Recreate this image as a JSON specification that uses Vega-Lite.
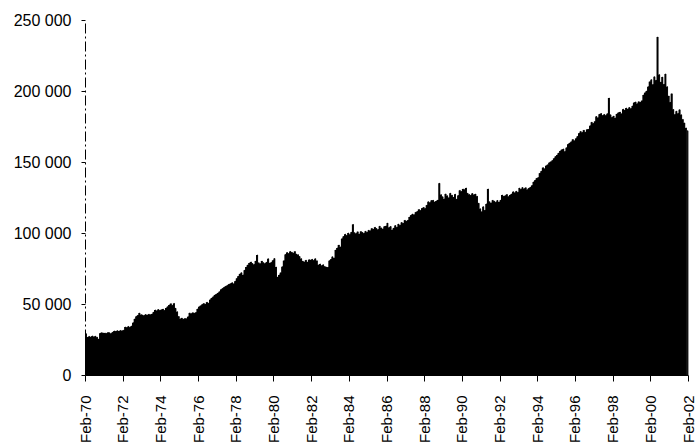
{
  "$schema": "https://vega.github.io/schema/vega-lite/v6.json",
  "width": 603,
  "height": 355,
  "autosize": "none",
  "padding": {"left": 85, "top": 20, "right": 9, "bottom": 72},
  "background": "white",
  "config": {"view": {"stroke": null}, "font": "Liberation Sans"},
  "data": {
    "format": {"parse": {"d": "date:'%Y-%m'"}},
    "values": [
      {"d":"1970-02","v":29000},{"d":"1970-03","v":26500},{"d":"1970-04","v":27200},{"d":"1970-05","v":26800},{"d":"1970-06","v":27500},{"d":"1970-07","v":26900},{"d":"1970-08","v":27300},{"d":"1970-09","v":26600},{"d":"1970-10","v":25300},{"d":"1970-11","v":29400},{"d":"1970-12","v":29800},{"d":"1971-01","v":29500},
      {"d":"1971-02","v":29600},{"d":"1971-03","v":29200},{"d":"1971-04","v":29900},{"d":"1971-05","v":29700},{"d":"1971-06","v":29300},{"d":"1971-07","v":30100},{"d":"1971-08","v":31000},{"d":"1971-09","v":30800},{"d":"1971-10","v":31200},{"d":"1971-11","v":30900},{"d":"1971-12","v":31400},{"d":"1972-01","v":31100},
      {"d":"1972-02","v":31600},{"d":"1972-03","v":33800},{"d":"1972-04","v":33500},{"d":"1972-05","v":34200},{"d":"1972-06","v":33700},{"d":"1972-07","v":34500},{"d":"1972-08","v":36800},{"d":"1972-09","v":39500},{"d":"1972-10","v":41200},{"d":"1972-11","v":42000},{"d":"1972-12","v":43600},{"d":"1973-01","v":42500},
      {"d":"1973-02","v":42300},{"d":"1973-03","v":41900},{"d":"1973-04","v":42600},{"d":"1973-05","v":42200},{"d":"1973-06","v":42800},{"d":"1973-07","v":42400},{"d":"1973-08","v":43000},{"d":"1973-09","v":44200},{"d":"1973-10","v":45800},{"d":"1973-11","v":45200},{"d":"1973-12","v":46100},{"d":"1974-01","v":45600},
      {"d":"1974-02","v":45900},{"d":"1974-03","v":46400},{"d":"1974-04","v":45500},{"d":"1974-05","v":47200},{"d":"1974-06","v":48100},{"d":"1974-07","v":49300},{"d":"1974-08","v":50200},{"d":"1974-09","v":49000},{"d":"1974-10","v":50400},{"d":"1974-11","v":47000},{"d":"1974-12","v":44500},{"d":"1975-01","v":41200},
      {"d":"1975-02","v":39500},{"d":"1975-03","v":40100},{"d":"1975-04","v":39200},{"d":"1975-05","v":39800},{"d":"1975-06","v":39600},{"d":"1975-07","v":41000},{"d":"1975-08","v":43700},{"d":"1975-09","v":43200},{"d":"1975-10","v":43900},{"d":"1975-11","v":43500},{"d":"1975-12","v":44100},{"d":"1976-01","v":46500},
      {"d":"1976-02","v":48000},{"d":"1976-03","v":48700},{"d":"1976-04","v":49600},{"d":"1976-05","v":50300},{"d":"1976-06","v":49800},{"d":"1976-07","v":51200},{"d":"1976-08","v":50600},{"d":"1976-09","v":53000},{"d":"1976-10","v":54200},{"d":"1976-11","v":55100},{"d":"1976-12","v":56300},{"d":"1977-01","v":57000},
      {"d":"1977-02","v":57800},{"d":"1977-03","v":58600},{"d":"1977-04","v":60200},{"d":"1977-05","v":61000},{"d":"1977-06","v":61800},{"d":"1977-07","v":62500},{"d":"1977-08","v":63100},{"d":"1977-09","v":63900},{"d":"1977-10","v":64300},{"d":"1977-11","v":65000},{"d":"1977-12","v":64200},{"d":"1978-01","v":66100},
      {"d":"1978-02","v":68000},{"d":"1978-03","v":69500},{"d":"1978-04","v":71200},{"d":"1978-05","v":72000},{"d":"1978-06","v":70500},{"d":"1978-07","v":73800},{"d":"1978-08","v":76000},{"d":"1978-09","v":77500},{"d":"1978-10","v":78800},{"d":"1978-11","v":79600},{"d":"1978-12","v":78500},{"d":"1979-01","v":77900},
      {"d":"1979-02","v":80200},{"d":"1979-03","v":84500},{"d":"1979-04","v":79000},{"d":"1979-05","v":78400},{"d":"1979-06","v":80200},{"d":"1979-07","v":79100},{"d":"1979-08","v":78600},{"d":"1979-09","v":79400},{"d":"1979-10","v":81800},{"d":"1979-11","v":78900},{"d":"1979-12","v":79300},{"d":"1980-01","v":80600},
      {"d":"1980-02","v":82000},{"d":"1980-03","v":76000},{"d":"1980-04","v":69000},{"d":"1980-05","v":70500},{"d":"1980-06","v":72000},{"d":"1980-07","v":76200},{"d":"1980-08","v":80500},{"d":"1980-09","v":84800},{"d":"1980-10","v":86200},{"d":"1980-11","v":85500},{"d":"1980-12","v":87000},{"d":"1981-01","v":86400},
      {"d":"1981-02","v":85800},{"d":"1981-03","v":86900},{"d":"1981-04","v":85200},{"d":"1981-05","v":84700},{"d":"1981-06","v":83500},{"d":"1981-07","v":81900},{"d":"1981-08","v":80200},{"d":"1981-09","v":79600},{"d":"1981-10","v":80800},{"d":"1981-11","v":79500},{"d":"1981-12","v":81200},{"d":"1982-01","v":81000},
      {"d":"1982-02","v":81500},{"d":"1982-03","v":80700},{"d":"1982-04","v":81900},{"d":"1982-05","v":80400},{"d":"1982-06","v":77500},{"d":"1982-07","v":78200},{"d":"1982-08","v":77000},{"d":"1982-09","v":77600},{"d":"1982-10","v":76400},{"d":"1982-11","v":76000},{"d":"1982-12","v":75800},{"d":"1983-01","v":80500},
      {"d":"1983-02","v":81500},{"d":"1983-03","v":83200},{"d":"1983-04","v":82400},{"d":"1983-05","v":88000},{"d":"1983-06","v":89500},{"d":"1983-07","v":91500},{"d":"1983-08","v":90200},{"d":"1983-09","v":96000},{"d":"1983-10","v":97500},{"d":"1983-11","v":99200},{"d":"1983-12","v":98300},{"d":"1984-01","v":100000},
      {"d":"1984-02","v":99000},{"d":"1984-03","v":100500},{"d":"1984-04","v":106000},{"d":"1984-05","v":100200},{"d":"1984-06","v":99600},{"d":"1984-07","v":100800},{"d":"1984-08","v":99300},{"d":"1984-09","v":101000},{"d":"1984-10","v":100400},{"d":"1984-11","v":99800},{"d":"1984-12","v":101200},{"d":"1985-01","v":100600},
      {"d":"1985-02","v":102000},{"d":"1985-03","v":101500},{"d":"1985-04","v":103200},{"d":"1985-05","v":102600},{"d":"1985-06","v":104000},{"d":"1985-07","v":103100},{"d":"1985-08","v":102400},{"d":"1985-09","v":104800},{"d":"1985-10","v":103600},{"d":"1985-11","v":102900},{"d":"1985-12","v":104500},{"d":"1986-01","v":105000},
      {"d":"1986-02","v":107000},{"d":"1986-03","v":103800},{"d":"1986-04","v":104600},{"d":"1986-05","v":102200},{"d":"1986-06","v":103500},{"d":"1986-07","v":105200},{"d":"1986-08","v":104100},{"d":"1986-09","v":106300},{"d":"1986-10","v":105500},{"d":"1986-11","v":107400},{"d":"1986-12","v":106800},{"d":"1987-01","v":108900},
      {"d":"1987-02","v":108200},{"d":"1987-03","v":109000},{"d":"1987-04","v":111200},{"d":"1987-05","v":112500},{"d":"1987-06","v":113400},{"d":"1987-07","v":112800},{"d":"1987-08","v":114600},{"d":"1987-09","v":115200},{"d":"1987-10","v":116500},{"d":"1987-11","v":115800},{"d":"1987-12","v":117400},{"d":"1988-01","v":118000},
      {"d":"1988-02","v":117200},{"d":"1988-03","v":119500},{"d":"1988-04","v":122000},{"d":"1988-05","v":121400},{"d":"1988-06","v":122800},{"d":"1988-07","v":123000},{"d":"1988-08","v":121900},{"d":"1988-09","v":122500},{"d":"1988-10","v":123200},{"d":"1988-11","v":135000},{"d":"1988-12","v":127000},{"d":"1989-01","v":125500},
      {"d":"1989-02","v":124000},{"d":"1989-03","v":127500},{"d":"1989-04","v":126200},{"d":"1989-05","v":124800},{"d":"1989-06","v":128000},{"d":"1989-07","v":126600},{"d":"1989-08","v":125100},{"d":"1989-09","v":127300},{"d":"1989-10","v":123800},{"d":"1989-11","v":126400},{"d":"1989-12","v":130000},{"d":"1990-01","v":129200},
      {"d":"1990-02","v":131000},{"d":"1990-03","v":130500},{"d":"1990-04","v":131700},{"d":"1990-05","v":128000},{"d":"1990-06","v":127200},{"d":"1990-07","v":126500},{"d":"1990-08","v":127800},{"d":"1990-09","v":126900},{"d":"1990-10","v":127400},{"d":"1990-11","v":125800},{"d":"1990-12","v":121000},{"d":"1991-01","v":117000},
      {"d":"1991-02","v":115000},{"d":"1991-03","v":118500},{"d":"1991-04","v":116000},{"d":"1991-05","v":120500},{"d":"1991-06","v":131000},{"d":"1991-07","v":122000},{"d":"1991-08","v":121200},{"d":"1991-09","v":123000},{"d":"1991-10","v":122400},{"d":"1991-11","v":121600},{"d":"1991-12","v":122900},{"d":"1992-01","v":121800},
      {"d":"1992-02","v":123100},{"d":"1992-03","v":126700},{"d":"1992-04","v":125900},{"d":"1992-05","v":126300},{"d":"1992-06","v":127100},{"d":"1992-07","v":125600},{"d":"1992-08","v":126800},{"d":"1992-09","v":127500},{"d":"1992-10","v":129000},{"d":"1992-11","v":128300},{"d":"1992-12","v":129400},{"d":"1993-01","v":128700},
      {"d":"1993-02","v":131700},{"d":"1993-03","v":130800},{"d":"1993-04","v":132000},{"d":"1993-05","v":131200},{"d":"1993-06","v":131900},{"d":"1993-07","v":130500},{"d":"1993-08","v":131500},{"d":"1993-09","v":132200},{"d":"1993-10","v":133400},{"d":"1993-11","v":136000},{"d":"1993-12","v":137200},{"d":"1994-01","v":138500},
      {"d":"1994-02","v":139000},{"d":"1994-03","v":142000},{"d":"1994-04","v":143500},{"d":"1994-05","v":146000},{"d":"1994-06","v":145200},{"d":"1994-07","v":147300},{"d":"1994-08","v":148000},{"d":"1994-09","v":149500},{"d":"1994-10","v":150200},{"d":"1994-11","v":151000},{"d":"1994-12","v":152500},{"d":"1995-01","v":153800},
      {"d":"1995-02","v":155000},{"d":"1995-03","v":156300},{"d":"1995-04","v":157800},{"d":"1995-05","v":158600},{"d":"1995-06","v":159200},{"d":"1995-07","v":157400},{"d":"1995-08","v":160000},{"d":"1995-09","v":162500},{"d":"1995-10","v":163400},{"d":"1995-11","v":164200},{"d":"1995-12","v":165800},{"d":"1996-01","v":164900},
      {"d":"1996-02","v":166500},{"d":"1996-03","v":168000},{"d":"1996-04","v":170200},{"d":"1996-05","v":171500},{"d":"1996-06","v":170800},{"d":"1996-07","v":172300},{"d":"1996-08","v":171000},{"d":"1996-09","v":172800},{"d":"1996-10","v":173000},{"d":"1996-11","v":175500},{"d":"1996-12","v":178000},{"d":"1997-01","v":177200},
      {"d":"1997-02","v":178500},{"d":"1997-03","v":182000},{"d":"1997-04","v":181200},{"d":"1997-05","v":183600},{"d":"1997-06","v":184100},{"d":"1997-07","v":182700},{"d":"1997-08","v":183500},{"d":"1997-09","v":182800},{"d":"1997-10","v":184000},{"d":"1997-11","v":195000},{"d":"1997-12","v":183200},{"d":"1998-01","v":181500},
      {"d":"1998-02","v":182400},{"d":"1998-03","v":181000},{"d":"1998-04","v":183800},{"d":"1998-05","v":184600},{"d":"1998-06","v":185200},{"d":"1998-07","v":183900},{"d":"1998-08","v":187200},{"d":"1998-09","v":186500},{"d":"1998-10","v":188000},{"d":"1998-11","v":187300},{"d":"1998-12","v":188400},{"d":"1999-01","v":187600},
      {"d":"1999-02","v":189500},{"d":"1999-03","v":191800},{"d":"1999-04","v":192300},{"d":"1999-05","v":191000},{"d":"1999-06","v":192500},{"d":"1999-07","v":192000},{"d":"1999-08","v":193100},{"d":"1999-09","v":197200},{"d":"1999-10","v":198800},{"d":"1999-11","v":200000},{"d":"1999-12","v":203000},{"d":"2000-01","v":206500},
      {"d":"2000-02","v":208000},{"d":"2000-03","v":204500},{"d":"2000-04","v":210000},{"d":"2000-05","v":207500},{"d":"2000-06","v":238000},{"d":"2000-07","v":211500},{"d":"2000-08","v":206300},{"d":"2000-09","v":209800},{"d":"2000-10","v":204700},{"d":"2000-11","v":212000},{"d":"2000-12","v":203000},{"d":"2001-01","v":196500},
      {"d":"2001-02","v":192000},{"d":"2001-03","v":198000},{"d":"2001-04","v":187000},{"d":"2001-05","v":183500},{"d":"2001-06","v":185800},{"d":"2001-07","v":184200},{"d":"2001-08","v":186800},{"d":"2001-09","v":183200},{"d":"2001-10","v":180000},{"d":"2001-11","v":177500},{"d":"2001-12","v":174000},{"d":"2002-01","v":172000}
    ]
  },
  "encoding": {
    "x": {
      "field": "d",
      "timeUnit": "yearmonth",
      "type": "temporal",
      "title": null,
      "scale": {"domain": [{"year": 1970, "month": 2, "date": 1}, {"year": 2002, "month": 2, "date": 1}]},
      "axis": {
        "values": [
          {"year": 1970, "month": 2, "date": 1}, {"year": 1972, "month": 2, "date": 1}, {"year": 1974, "month": 2, "date": 1},
          {"year": 1976, "month": 2, "date": 1}, {"year": 1978, "month": 2, "date": 1}, {"year": 1980, "month": 2, "date": 1},
          {"year": 1982, "month": 2, "date": 1}, {"year": 1984, "month": 2, "date": 1}, {"year": 1986, "month": 2, "date": 1},
          {"year": 1988, "month": 2, "date": 1}, {"year": 1990, "month": 2, "date": 1}, {"year": 1992, "month": 2, "date": 1},
          {"year": 1994, "month": 2, "date": 1}, {"year": 1996, "month": 2, "date": 1}, {"year": 1998, "month": 2, "date": 1},
          {"year": 2000, "month": 2, "date": 1}, {"year": 2002, "month": 2, "date": 1}
        ],
        "format": "%b-%y",
        "formatType": "time",
        "labelAngle": -90,
        "labelFontSize": 15,
        "labelColor": "black",
        "labelPadding": 14,
        "labelOverlap": false,
        "labelFlush": false,
        "tickSize": 6,
        "tickColor": "black",
        "domainColor": "black",
        "grid": false
      }
    },
    "y": {
      "field": "v",
      "type": "quantitative",
      "title": null,
      "scale": {"domain": [0, 250000], "nice": false},
      "axis": {
        "values": [0, 50000, 100000, 150000, 200000, 250000],
        "labelExpr": "replace(format(datum.value, ','), ',', ' ')",
        "labelFontSize": 16,
        "labelColor": "black",
        "labelPadding": 10,
        "tickSize": 4,
        "tickColor": "black",
        "domainColor": "black",
        "domainDash": [10, 3, 2, 3],
        "grid": false
      }
    }
  },
  "layer": [
    {
      "mark": {"type": "area", "color": "black", "interpolate": "step-after", "opacity": 1},
      "encoding": {"x": {"field": "d", "timeUnit": "yearmonth", "type": "temporal", "bandPosition": 0}}
    },
    {
      "mark": {"type": "bar", "color": "black", "stroke": "black", "strokeWidth": 0.8}
    }
  ]
}
